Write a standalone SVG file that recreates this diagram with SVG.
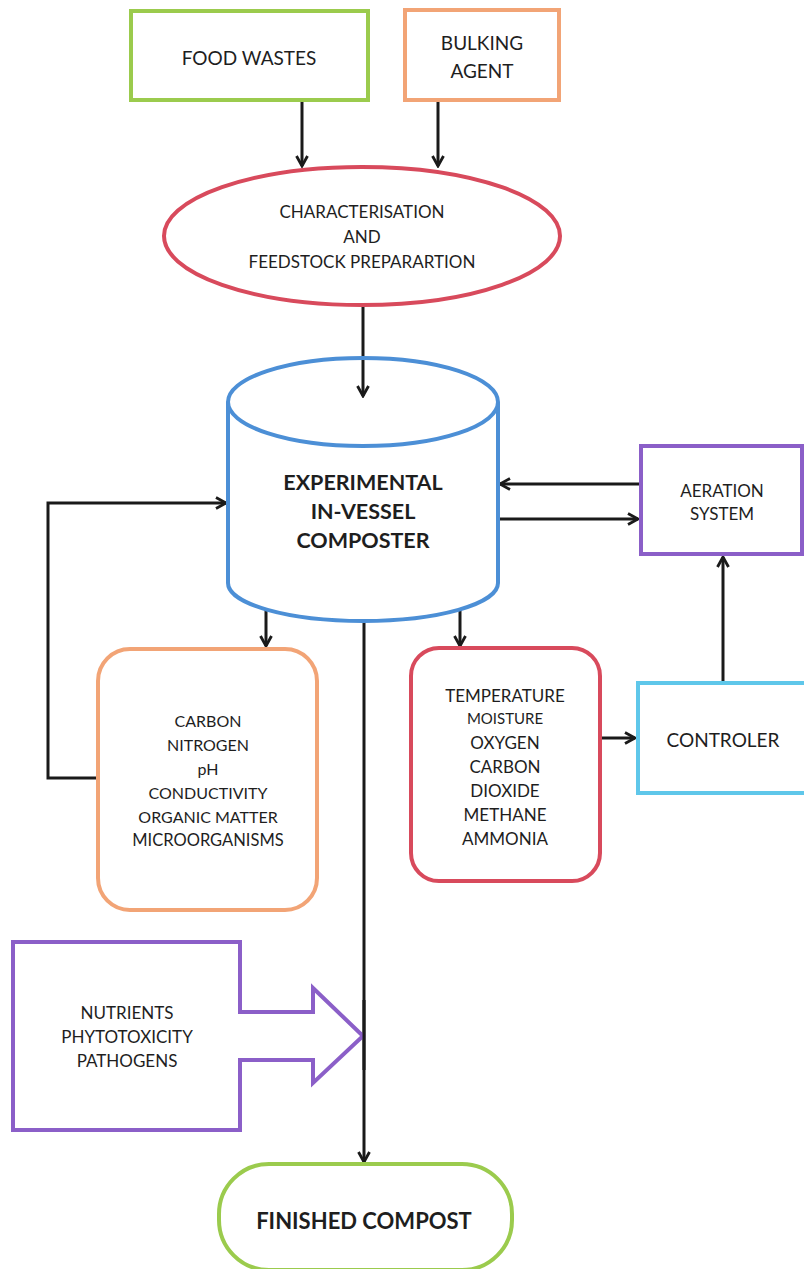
<svg xmlns="http://www.w3.org/2000/svg" width="804" height="1269" viewBox="0 0 804 1269">
<defs>
<marker id="ah" viewBox="0 0 14 14" refX="12" refY="7" markerWidth="14" markerHeight="14" markerUnits="userSpaceOnUse" orient="auto">
<path d="M2,1.5 L12,7 L2,12.5" fill="none" stroke="#1a1a1a" stroke-width="2.8" stroke-linejoin="miter"/>
</marker>
</defs>
<style>
.t{font-family:Lato,"Open Sans","Liberation Sans",sans-serif;fill:#1e1e1e;text-anchor:middle;dominant-baseline:central}
.s{font-size:17px}
.m{font-size:19px}
.b{font-size:21.5px;font-weight:bold}
.c{fill:none;stroke:#1a1a1a;stroke-width:3;marker-end:url(#ah)}
.l{fill:none;stroke:#1a1a1a;stroke-width:3}
.box{fill:#fff;stroke-width:4}
</style>
<rect width="804" height="1269" fill="#fff"/>
<g id="connectors">
<path class="c" d="M302,100 V166"/>
<path class="c" d="M438,100 V166"/>
<path class="c" d="M363,305 V396"/>
<path class="c" d="M640,484 H500"/>
<path class="c" d="M498,519 H638"/>
<path class="c" d="M723,682 V557"/>
<path class="c" d="M600,738 H635"/>
<path class="c" d="M266,605 V646"/>
<path class="c" d="M460,605 V646"/>
<path class="c" d="M98,778 H48 V503 H226"/>
<path class="c" d="M364,620 V1162"/>
</g>
<g id="food-wastes">
<rect class="box" x="131" y="11" width="237" height="89" stroke="#9bcb4d"/>
<text class="t m" x="249" y="57">FOOD WASTES</text>
</g>
<g id="bulking-agent">
<rect class="box" x="405" y="10" width="154" height="90" stroke="#f2a476"/>
<text class="t m" x="482" y="42">BULKING</text>
<text class="t m" x="482" y="70">AGENT</text>
</g>
<g id="characterisation">
<ellipse class="box" cx="362" cy="236" rx="198" ry="69" stroke="#d84a5c" stroke-width="3.5"/>
<text class="t s" x="362" y="211">CHARACTERISATION</text>
<text class="t s" x="362" y="236">AND</text>
<text class="t s" x="362" y="261">FEEDSTOCK PREPARARTION</text>
</g>
<g id="composter">
<path class="box" d="M228,402 V583 A135,38 0 0 0 498,583 V402" stroke="#4c8fd6"/>
<ellipse class="box" cx="363" cy="402" rx="135" ry="44" stroke="#4c8fd6"/>
<text class="t b" x="363" y="482">EXPERIMENTAL</text>
<text class="t b" x="363" y="511">IN-VESSEL</text>
<text class="t b" x="363" y="540">COMPOSTER</text>
</g>
<path class="c" d="M363,360 V396"/>
<g id="aeration-system">
<rect class="box" x="641" y="446" width="161" height="108" stroke="#8b5fc8"/>
<text class="t s" x="722" y="490">AERATION</text>
<text class="t s" x="722" y="513">SYSTEM</text>
</g>
<g id="controler">
<rect class="box" x="638" y="683" width="168" height="110" stroke="#5fc7ea"/>
<text class="t m" x="723" y="739">CONTROLER</text>
</g>
<g id="parameters">
<rect class="box" x="98" y="649" width="219" height="261" rx="32" stroke="#f2a476"/>
<text class="t" style="font-size:16px" x="208" y="720">CARBON</text>
<text class="t" style="font-size:16px" x="208" y="744">NITROGEN</text>
<text class="t" style="font-size:16px" x="208" y="768">pH</text>
<text class="t" style="font-size:16px" x="208" y="792">CONDUCTIVITY</text>
<text class="t" style="font-size:16px" x="208" y="816">ORGANIC MATTER</text>
<text class="t" style="font-size:16.5px" x="208" y="840">MICROORGANISMS</text>
</g>
<g id="monitoring">
<rect class="box" x="411" y="648" width="189" height="233" rx="28" stroke="#d84a5c"/>
<text class="t s" x="505" y="695">TEMPERATURE</text>
<text class="t" style="font-size:15px" x="505" y="718">MOISTURE</text>
<text class="t s" x="505" y="742">OXYGEN</text>
<text class="t s" x="505" y="766">CARBON</text>
<text class="t s" x="505" y="790">DIOXIDE</text>
<text class="t s" x="505" y="814">METHANE</text>
<text class="t s" x="505" y="838">AMMONIA</text>
</g>
<g id="quality">
<path class="box" d="M13,942 H240 V1012 H313 V988 L363,1036 L313,1083 V1060 H240 V1130 H13 Z" stroke="#8b5fc8" stroke-linejoin="miter"/>
<text class="t s" x="127" y="1012">NUTRIENTS</text>
<text class="t s" x="127" y="1036">PHYTOTOXICITY</text>
<text class="t s" x="127" y="1060">PATHOGENS</text>
</g>
<path class="l" d="M364,1000 V1070"/>
<g id="finished-compost">
<rect class="box" x="219" y="1164" width="293" height="106" rx="50" stroke="#9bcb4d"/>
<text class="t b" x="364" y="1220" style="font-size:22px">FINISHED COMPOST</text>
</g>
</svg>
